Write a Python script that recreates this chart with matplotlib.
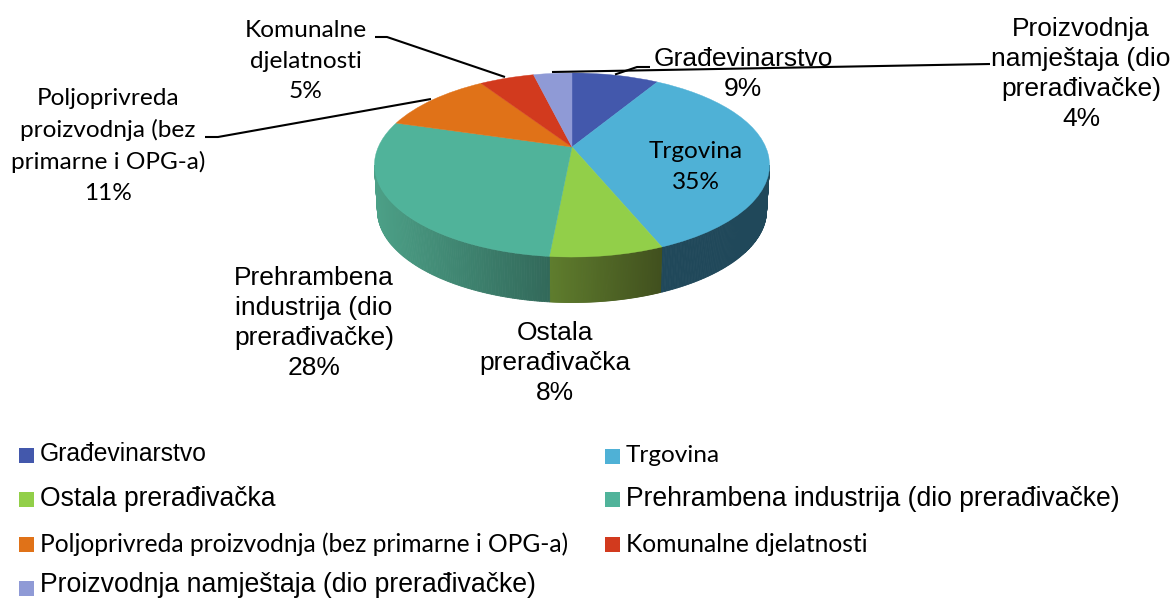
import numpy as np
import matplotlib
matplotlib.use("Agg")
import matplotlib.pyplot as plt
from matplotlib.patches import Rectangle
from matplotlib.transforms import Transform

categories = ["Građevinarstvo", "Trgovina", "Ostala prerađivačka",
              "Prehrambena industrija (dio prerađivačke)",
              "Poljoprivreda proizvodnja (bez primarne i OPG-a)",
              "Komunalne djelatnosti",
              "Proizvodnja namještaja (dio prerađivačke)"]
shares = [8.6, 35.2, 7.7, 28.1, 11.2, 5.4, 3.8]
percent_labels = ["9%", "35%", "8%", "28%", "11%", "5%", "4%"]
wrapped_names = ["Građevinarstvo", "Trgovina", "Ostala\nprerađivačka",
                 "Prehrambena\nindustrija (dio\nprerađivačke)",
                 "Poljoprivreda\nproizvodnja (bez\nprimarne i OPG-a)",
                 "Komunalne\ndjelatnosti",
                 "Proizvodnja\nnamještaja (dio\nprerađivačke)"]
colors = ["#4358AC", "#4FB1D6", "#92CF49", "#50B39A", "#E07218", "#D23A1E", "#8F9AD6"]

ARIAL, CALIBRI = "Liberation Sans", "Lato"
label_fonts = [ARIAL, CALIBRI, ARIAL, ARIAL, CALIBRI, CALIBRI, ARIAL]
label_pos = [(743, 74), (696, 167), (555, 363), (314, 323), (108, 146), (306, 61), (1081, 74)]
legend_pos = [(19, 455.5), (605, 456), (19, 499), (605, 499), (19, 544), (605, 544), (19, 588)]
legend_text_y = [454, 456, 499, 499, 544, 544, 585.5]
legend_sizes = [17.7, 17.6, 19.1, 19.1, 17.7, 17.7, 19.2]

# perspective of the disc: unit circle -> screen pixels
CX, CY, B, A, K = 572.0, 147.0, 193.7, 88.5, 0.1957
DEPTH, SHRINK = 45.5, 0.985


def project(u, v):
    w = 1 + K * v
    return CX + B * u / w, CY - A * v / w


class Perspective(Transform):
    input_dims = output_dims = 2
    is_affine = False

    def transform_non_affine(self, values):
        values = np.asarray(values, float)
        x, y = project(values[:, 0], values[:, 1])
        return np.column_stack([x, y])


fig = plt.figure(figsize=(11.75, 5.99), dpi=100)
ax = fig.add_axes([0, 0, 1, 1])

wedges, _ = ax.pie(shares, colors=colors, startangle=90, counterclock=False, radius=1)
ax.set_aspect("auto")
ax.set_xlim(0, 1175)
ax.set_ylim(599, 0)
ax.axis("off")
persp = Perspective() + ax.transData
for w, c in zip(wedges, colors):
    w.set_transform(persp)
    w.set_edgecolor(c)
    w.set_linewidth(0.3)
    w.set_zorder(3)
    w.set_clip_on(False)

# side wall: (slice index) -> shade at start and end of the visible arc
wall_shades = {1: ((32, 72, 90), (32, 72, 90)),
               2: ((95, 125, 45), (65, 80, 30)),
               3: ((76, 160, 135), (50, 105, 90))}
edges = np.cumsum([0] + shares) / sum(shares) * 2 * np.pi


def rim_x_y(theta):
    return project(np.sin(theta), np.cos(theta))


# visible part of the rim: between the silhouette points of the ellipse
th = np.linspace(0, 2 * np.pi, 3601)
xs, ys = rim_x_y(th)
th_right, th_left = th[np.argmax(xs)], th[np.argmin(xs)]
for i, (c_a, c_b) in wall_shades.items():
    lo, hi = max(edges[i], th_right), min(edges[i + 1], th_left)
    t = np.linspace(lo, hi, 120)
    x, y = rim_x_y(t)
    xb = CX + (x - CX) * SHRINK
    yb = y + DEPTH
    for j in range(len(t) - 1):
        # x runs leftwards: the shade darkens towards the centre front
        f = (x[j] - x.max()) / (x.min() - x.max() + 1e-9)
        col = np.array(c_b) + (np.array(c_a) - np.array(c_b)) * f
        ax.fill([x[j], x[j + 1], xb[j + 1], xb[j]], [y[j], y[j + 1], yb[j + 1], yb[j]],
                color=col / 255, lw=0.6, zorder=2)

# leader lines
leaders = [([650, 637, 615], [67, 67, 74.5]),
           ([990, 552], [64, 72]),
           ([375, 387, 505], [37, 37, 77]),
           ([205, 218, 431], [137, 137, 99])]
for lx, ly in leaders:
    ax.plot(lx, ly, color="black", lw=1.5, zorder=4, solid_capstyle="butt")

# data labels
for name, pct, font, (x, y) in zip(wrapped_names, percent_labels, label_fonts, label_pos):
    size = 19 if font == ARIAL else 17.6
    ax.text(x, y, f"{name}\n{pct}", family=font, fontsize=size, ha="center", va="center",
            linespacing=1.33 if font == ARIAL else 1.55, color="black", zorder=5)

# legend
for name, col, font, size, (x, y), ty in zip(categories, colors, label_fonts, legend_sizes,
                                             legend_pos, legend_text_y):
    ax.add_patch(Rectangle((x, y - 7.5), 15, 15, facecolor=col, edgecolor="none"))
    ax.text(x + 21, ty, name, family=font, fontsize=size, ha="left", va="center", color="black")

fig.savefig("out.png", dpi=100)
